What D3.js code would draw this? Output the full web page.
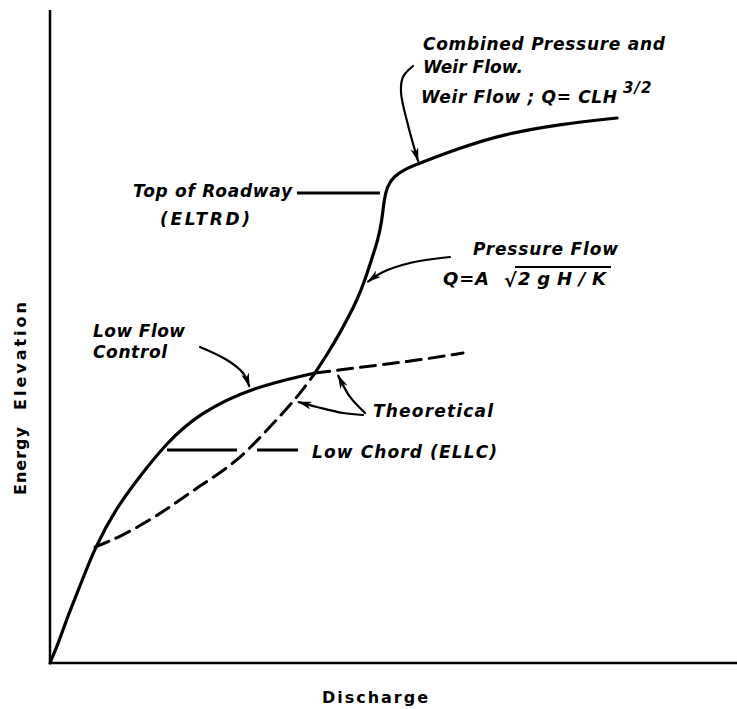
<!DOCTYPE html>
<meta charset="utf-8">
<style>
body { margin: 0; background: #fff; }
svg { display: block; }
.lbl { font: italic bold 17px "DejaVu Sans", sans-serif; fill: #000; }
.axl { font: bold 16px "DejaVu Sans", sans-serif; fill: #000; }
.curve { fill: none; stroke: #000; stroke-linecap: round; stroke-linejoin: round; }
</style>
<body>
<svg width="737" height="709"></svg>
<script src="https://cdn.jsdelivr.net/npm/d3@7"></script>
<script>
// rating curve, relative units (discharge 0-100, energy elevation 0-100)
var lowFlow = [[0,0],[1.2,3.0],[2.6,7.2],[4.37,11.8],[6.55,17.76],[9.75,23.89],
  [12.66,28.02],[17.03,33.84],[21.83,38.28],[29.11,42.11],[38.57,44.41]];
var upperFlow = [[38.57,44.41],[40.47,47.47],[42.21,50.54],[43.67,53.45],[44.69,55.59],
  [45.85,58.65],[46.87,62.02],[47.74,64.78],[48.33,67.84],[48.62,70.9],[49.05,72.89],
  [49.93,74.43],[51.67,75.65],[53.86,76.57],[59.68,78.87],[65.5,80.86],[74.24,82.54],[82.53,83.46]];
var theoLow = [[6.55,17.76],[10.19,19.3],[14.56,21.9],[17.9,24.2],[21.54,26.95],
  [27.22,30.78],[31.59,35.68],[35.95,40.58],[38.57,44.41]];
var theoHigh = [[38.57,44.41],[42.21,44.87],[46.58,45.48],[53.86,46.4],[60.12,47.47]];

var lowChordY = 32.62, lowChordSegs = [[17.03,27.22],[30.13,36.1]];
var roadwayY = 71.98, roadwaySeg = [35.95,48.03];

var arrows = [
  [[52.84,91.42],[51.38,89.74],[51.09,87.44],[52.11,82.39],[53.57,76.9]],
  [[58.22,62.17],[52.4,61.26],[48.47,59.88],[46.3,58.4]],
  [[21.83,48.39],[25.76,46.4],[28.09,44.41],[29.0,42.4]],
  [[45.85,38.28],[43.67,40.74],[42.5,42.88],[41.95,44.0]],
  [[45.56,37.98],[42.65,38.28],[38.86,39.2],[36.2,39.95]]
];

var labels = [
  {t: "Combined Pressure and", x: 54.29, y: 93.87, w: 242},
  {t: "Weir Flow.", x: 54.29, y: 90.35, w: 100},
  {t: "Weir Flow ; Q= CLH", x: 54.0, y: 85.76, w: 196},
  {t: "Top of Roadway", x: 35.23, y: 71.36, w: 159, anchor: "end"},
  {t: "(ELTRD)", x: 16.01, y: 67.08, w: 90},
  {t: "Pressure Flow", x: 61.57, y: 62.48, w: 145},
  {t: "Low Flow", x: 6.26, y: 49.92, w: 92},
  {t: "Control", x: 6.26, y: 46.71, w: 74},
  {t: "Theoretical", x: 47.02, y: 37.67, w: 120},
  {t: "Low Chord (ELLC)", x: 38.14, y: 31.39, w: 185}
];

var svg = d3.select("svg");
var x = d3.scaleLinear().domain([0, 100]).range([50, 737]);
var y = d3.scaleLinear().domain([0, 100]).range([663, 10]);

var smooth = d3.line()
    .x(function(d) { return x(d[0]); })
    .y(function(d) { return y(d[1]); })
    .curve(d3.curveBasis);
var line = d3.line()
    .x(function(d) { return x(d[0]); })
    .y(function(d) { return y(d[1]); })
    .curve(d3.curveCatmullRom);

svg.append("defs").append("marker")
    .attr("id", "head")
    .attr("markerUnits", "userSpaceOnUse")
    .attr("viewBox", "0 0 14 8")
    .attr("refX", 13).attr("refY", 4)
    .attr("markerWidth", 14).attr("markerHeight", 8)
    .attr("orient", "auto")
  .append("path")
    .attr("d", "M0,0 L14,4 L0,8 L4,4 Z")
    .attr("fill", "#000");

// axes
svg.append("line").attr("x1", x(0)).attr("x2", x(0)).attr("y1", y(0)).attr("y2", y(100))
    .attr("stroke", "#000").attr("stroke-width", 2.5);
svg.append("line").attr("x1", x(0)).attr("x2", x(100)).attr("y1", y(0)).attr("y2", y(0))
    .attr("stroke", "#000").attr("stroke-width", 2.5);

// curves
svg.append("path").datum(lowFlow).attr("class", "curve").attr("stroke-width", 3.2).attr("d", smooth);
svg.append("path").datum(upperFlow).attr("class", "curve").attr("stroke-width", 3.2).attr("d", smooth);
[theoLow, theoHigh].forEach(function(s) {
  svg.append("path").datum(s).attr("class", "curve")
      .attr("stroke-width", 3).attr("stroke-linecap", "butt")
      .attr("stroke-dasharray", "15,8").attr("d", smooth);
});

// reference lines
lowChordSegs.forEach(function(s) {
  svg.append("line").attr("x1", x(s[0])).attr("x2", x(s[1]))
      .attr("y1", y(lowChordY)).attr("y2", y(lowChordY))
      .attr("stroke", "#000").attr("stroke-width", 3);
});
svg.append("line").attr("x1", x(roadwaySeg[0])).attr("x2", x(roadwaySeg[1]))
    .attr("y1", y(roadwayY)).attr("y2", y(roadwayY))
    .attr("stroke", "#000").attr("stroke-width", 3);

// arrows
svg.selectAll(".arr").data(arrows).enter().append("path")
    .attr("class", "curve arr").attr("stroke-width", 2.2)
    .attr("d", line).attr("marker-end", "url(#head)");

// labels
svg.selectAll(".lbl").data(labels).enter().append("text")
    .attr("class", "lbl")
    .attr("x", function(d) { return x(d.x); })
    .attr("y", function(d) { return y(d.y); })
    .attr("text-anchor", function(d) { return d.anchor || "start"; })
    .attr("textLength", function(d) { return d.w; })
    .attr("lengthAdjust", "spacing")
    .text(function(d) { return d.t; });

svg.append("text").attr("class", "lbl").style("font-size", "15px")
    .attr("x", 623).attr("y", 93).style("letter-spacing", "1px")
    .text("3/2");

// pressure flow formula
svg.append("text").attr("class", "lbl").style("font-size", "18px")
    .attr("x", 443).attr("y", 285).attr("textLength", 46).attr("lengthAdjust", "spacing")
    .text("Q = A");
svg.append("text").attr("class", "lbl").style("font-size", "19px").style("font-style", "normal")
    .attr("x", 504).attr("y", 287).text("\u221a");
svg.append("text").attr("class", "lbl").style("font-size", "18px")
    .attr("x", 518).attr("y", 285).attr("textLength", 88).attr("lengthAdjust", "spacing")
    .text("2gH/K");
svg.append("line").attr("x1", 515).attr("x2", 611).attr("y1", 267).attr("y2", 267)
    .attr("stroke", "#000").attr("stroke-width", 2);

// axis titles
svg.append("text").attr("class", "axl")
    .attr("x", 375).attr("y", 703).attr("text-anchor", "middle")
    .attr("textLength", 106).attr("lengthAdjust", "spacing")
    .text("Discharge");
svg.append("text").attr("class", "axl")
    .attr("transform", "translate(26,495) rotate(-90)")
    .attr("textLength", 68).attr("lengthAdjust", "spacing")
    .text("Energy");
svg.append("text").attr("class", "axl")
    .attr("transform", "translate(26,410) rotate(-90)")
    .attr("textLength", 108).attr("lengthAdjust", "spacing")
    .text("Elevation");
</script>
